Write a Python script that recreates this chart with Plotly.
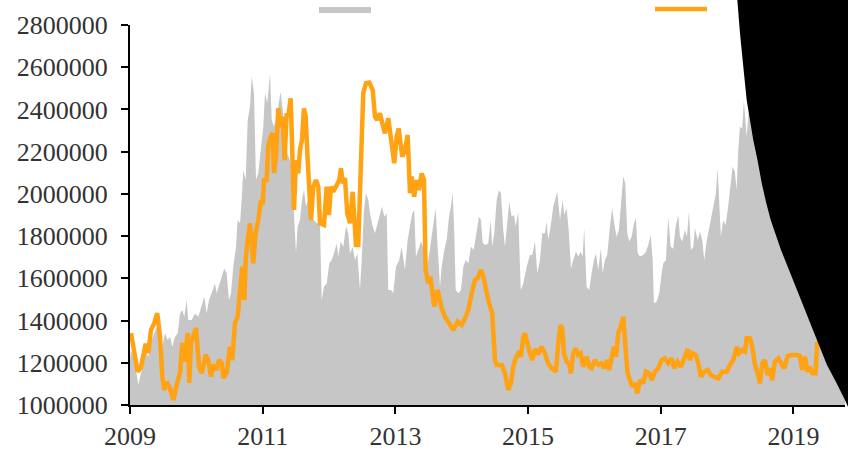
import plotly.graph_objects as go

# gray area series (decimal year, value)
area_x = [2009.0, 2009.015, 2009.075, 2009.125, 2009.176, 2009.226, 2009.276, 2009.327, 2009.402, 2009.452,
          2009.487, 2009.527, 2009.568, 2009.603, 2009.638, 2009.678, 2009.719, 2009.754, 2009.788, 2009.818,
          2009.855, 2009.877, 2009.93, 2009.98, 2010.029, 2010.07, 2010.12, 2010.156, 2010.19, 2010.231,
          2010.281, 2010.307, 2010.341, 2010.382, 2010.421, 2010.457, 2010.492, 2010.522, 2010.557, 2010.598,
          2010.623, 2010.658, 2010.683, 2010.707, 2010.744, 2010.774, 2010.809, 2010.834, 2010.869, 2010.899,
          2010.933, 2010.974, 2011.009, 2011.035, 2011.07, 2011.11, 2011.136, 2011.17, 2011.211, 2011.25,
          2011.271, 2011.301, 2011.336, 2011.371, 2011.411, 2011.446, 2011.476, 2011.502, 2011.527, 2011.562,
          2011.592, 2011.622, 2011.652, 2011.687, 2011.723, 2011.763, 2011.814, 2011.864, 2011.889, 2011.924,
          2011.965, 2012.004, 2012.04, 2012.075, 2012.115, 2012.139, 2012.176, 2012.215, 2012.256, 2012.29,
          2012.316, 2012.356, 2012.391, 2012.426, 2012.466, 2012.492, 2012.527, 2012.557, 2012.592, 2012.617,
          2012.658, 2012.693, 2012.718, 2012.757, 2012.798, 2012.833, 2012.869, 2012.893, 2012.934, 2012.969,
          2013.009, 2013.058, 2013.094, 2013.144, 2013.185, 2013.22, 2013.255, 2013.284, 2013.31, 2013.345,
          2013.385, 2013.42, 2013.456, 2013.496, 2013.536, 2013.571, 2013.607, 2013.637, 2013.672, 2013.698,
          2013.737, 2013.773, 2013.808, 2013.838, 2013.863, 2013.888, 2013.909, 2013.948, 2013.989, 2014.024,
          2014.06, 2014.099, 2014.14, 2014.18, 2014.215, 2014.26, 2014.29, 2014.316, 2014.36, 2014.4,
          2014.436, 2014.46, 2014.49, 2014.527, 2014.561, 2014.591, 2014.626, 2014.652, 2014.686, 2014.716,
          2014.752, 2014.787, 2014.813, 2014.852, 2014.889, 2014.928, 2014.979, 2015.029, 2015.064, 2015.104,
          2015.139, 2015.179, 2015.214, 2015.254, 2015.279, 2015.304, 2015.34, 2015.38, 2015.42, 2015.44,
          2015.481, 2015.521, 2015.546, 2015.581, 2015.616, 2015.646, 2015.681, 2015.721, 2015.756, 2015.792,
          2015.822, 2015.846, 2015.882, 2015.922, 2015.958, 2015.993, 2016.023, 2016.058, 2016.098, 2016.124,
          2016.158, 2016.193, 2016.234, 2016.268, 2016.298, 2016.335, 2016.369, 2016.399, 2016.435, 2016.465,
          2016.495, 2016.525, 2016.561, 2016.596, 2016.626, 2016.652, 2016.687, 2016.736, 2016.777, 2016.812,
          2016.848, 2016.878, 2016.897, 2016.938, 2016.977, 2017.013, 2017.038, 2017.078, 2017.113, 2017.149,
          2017.188, 2017.224, 2017.264, 2017.289, 2017.324, 2017.364, 2017.395, 2017.425, 2017.455, 2017.49,
          2017.515, 2017.556, 2017.591, 2017.625, 2017.655, 2017.691, 2017.726, 2017.767, 2017.806, 2017.831,
          2017.857, 2017.881, 2017.906, 2017.941, 2017.977, 2018.016, 2018.052, 2018.082, 2018.117, 2018.143,
          2018.168, 2018.193, 2018.228, 2018.253, 2018.294, 2018.329, 2018.5, 2018.8, 2019.1, 2019.4, 2019.78]
area_y = [1220000, 1260000, 1200000, 1095000, 1166000, 1260000, 1229000, 1308000, 1371000, 1292000,
          1276000, 1340000, 1308000, 1323000, 1276000, 1323000, 1340000, 1434000, 1450000, 1418000,
          1497000, 1403000, 1403000, 1434000, 1418000, 1466000, 1513000, 1434000, 1497000, 1529000,
          1576000, 1529000, 1560000, 1608000, 1647000, 1624000, 1497000, 1529000, 1655000, 1750000,
          1876000, 1861000, 1971000, 2113000, 2066000, 2350000, 2413000, 2555000, 2477000, 2066000,
          2097000, 2224000, 2318000, 2477000, 2430000, 2571000, 2350000, 2318000, 2366000, 2445000,
          2484000, 2397000, 2303000, 2192000, 2160000, 2097000, 1876000, 1718000, 1845000, 1876000,
          1971000, 2018000, 1940000, 1971000, 1892000, 1876000, 1861000, 1861000, 1497000, 1560000,
          1576000, 1671000, 1687000, 1718000, 1766000, 1703000, 1774000, 1750000, 1845000, 1813000,
          1718000, 1750000, 1687000, 1718000, 1545000, 1687000, 1924000, 2003000, 1971000, 1908000,
          1845000, 1813000, 1845000, 1892000, 1940000, 1892000, 1908000, 1545000, 1545000, 1529000,
          1655000, 1687000, 1750000, 1640000, 1782000, 1845000, 1908000, 1924000, 1703000, 1734000,
          1774000, 1750000, 1624000, 1687000, 1782000, 1845000, 1932000, 1750000, 1560000, 1655000,
          1734000, 1782000, 1892000, 1940000, 2010000, 1813000, 1545000, 1529000, 1545000, 1655000,
          1687000, 1671000, 1750000, 1734000, 1813000, 1892000, 1876000, 1766000, 1758000, 1766000,
          1876000, 1750000, 1813000, 1971000, 2018000, 2003000, 1829000, 1750000, 1861000, 1963000,
          1892000, 1900000, 1845000, 1916000, 1545000, 1576000, 1655000, 1710000, 1711000, 1774000,
          1624000, 1687000, 1813000, 1813000, 1868000, 1782000, 1845000, 1940000, 1987000, 2010000,
          1876000, 1971000, 1900000, 1932000, 1813000, 1647000, 1687000, 1726000, 1703000, 1726000,
          1703000, 1837000, 1560000, 1545000, 1624000, 1687000, 1718000, 1640000, 1742000, 1624000,
          1687000, 1711000, 1845000, 1932000, 1860000, 1797000, 1829000, 1940000, 2082000, 2050000,
          1813000, 1774000, 1797000, 1861000, 1884000, 1718000, 1703000, 1711000, 1726000, 1758000,
          1805000, 1687000, 1482000, 1489000, 1529000, 1624000, 1671000, 1687000, 1892000, 1750000,
          1740000, 1845000, 1900000, 1797000, 1774000, 1829000, 1797000, 1916000, 1734000, 1750000,
          1837000, 1782000, 1821000, 1782000, 1687000, 1774000, 1829000, 1892000, 1955000, 2003000,
          2121000, 1940000, 1797000, 1876000, 1853000, 1940000, 2050000, 2129000, 2105000, 2018000,
          2208000, 2318000, 2310000, 2445000, 2271000, 2400000, 2300000, 2250000, 2350000, 2300000, 2250000]

# orange line series (decimal year, value)
line_x = [2009.015, 2009.05, 2009.116, 2009.166, 2009.2, 2009.237, 2009.276, 2009.316, 2009.366, 2009.411,
          2009.452, 2009.487, 2009.517, 2009.553, 2009.603, 2009.653, 2009.704, 2009.754, 2009.788, 2009.818,
          2009.87, 2009.894, 2009.919, 2009.954, 2009.995, 2010.04, 2010.081, 2010.141, 2010.18, 2010.221,
          2010.255, 2010.307, 2010.341, 2010.382, 2010.406, 2010.457, 2010.507, 2010.542, 2010.582, 2010.623,
          2010.658, 2010.692, 2010.723, 2010.744, 2010.774, 2010.809, 2010.858, 2010.894, 2010.933, 2010.974,
          2011.0, 2011.02, 2011.06, 2011.083, 2011.12, 2011.15, 2011.17, 2011.2, 2011.235, 2011.271,
          2011.301, 2011.331, 2011.361, 2011.385, 2011.422, 2011.452, 2011.472, 2011.502, 2011.536, 2011.562,
          2011.592, 2011.622, 2011.648, 2011.678, 2011.702, 2011.728, 2011.763, 2011.803, 2011.838, 2011.864,
          2011.924, 2011.965, 2011.999, 2012.029, 2012.064, 2012.115, 2012.154, 2012.18, 2012.206, 2012.24,
          2012.275, 2012.316, 2012.356, 2012.38, 2012.406, 2012.44, 2012.466, 2012.492, 2012.516, 2012.557,
          2012.607, 2012.658, 2012.693, 2012.727, 2012.768, 2012.809, 2012.843, 2012.893, 2012.944, 2012.983,
          2013.02, 2013.05, 2013.104, 2013.144, 2013.185, 2013.22, 2013.245, 2013.284, 2013.32, 2013.355,
          2013.396, 2013.431, 2013.456, 2013.496, 2013.526, 2013.586, 2013.637, 2013.698, 2013.747, 2013.797,
          2013.873, 2013.939, 2013.999, 2014.049, 2014.099, 2014.15, 2014.2, 2014.24, 2014.29, 2014.325,
          2014.365, 2014.411, 2014.46, 2014.501, 2014.527, 2014.602, 2014.652, 2014.702, 2014.742, 2014.777,
          2014.813, 2014.852, 2014.893, 2014.928, 2014.953, 2014.994, 2015.029, 2015.064, 2015.104, 2015.153,
          2015.204, 2015.254, 2015.304, 2015.355, 2015.42, 2015.455, 2015.491, 2015.515, 2015.541, 2015.581,
          2015.62, 2015.646, 2015.681, 2015.721, 2015.756, 2015.792, 2015.831, 2015.882, 2015.922, 2015.958,
          2016.008, 2016.058, 2016.108, 2016.143, 2016.193, 2016.223, 2016.259, 2016.294, 2016.325, 2016.36,
          2016.395, 2016.435, 2016.471, 2016.501, 2016.536, 2016.57, 2016.611, 2016.646, 2016.687, 2016.736,
          2016.777, 2016.827, 2016.863, 2016.912, 2016.962, 2017.013, 2017.063, 2017.113, 2017.164, 2017.203,
          2017.254, 2017.304, 2017.354, 2017.405, 2017.44, 2017.475, 2017.526, 2017.565, 2017.606, 2017.655,
          2017.707, 2017.756, 2017.806, 2017.867, 2017.927, 2017.993, 2018.043, 2018.093, 2018.143, 2018.178,
          2018.219, 2018.269, 2018.294, 2018.344, 2018.379, 2018.42, 2018.46, 2018.495, 2018.53, 2018.57,
          2018.611, 2018.65, 2018.68, 2018.721, 2018.771, 2018.811, 2018.861, 2018.912, 2018.973, 2019.048,
          2019.098, 2019.132, 2019.173, 2019.213, 2019.248, 2019.283, 2019.333, 2019.358, 2019.41]
line_y = [1341000, 1276000, 1158000, 1180000, 1245000, 1290000, 1246000, 1355000, 1388000, 1435000,
          1323000, 1134000, 1071000, 1110000, 1080000, 1024000, 1095000, 1152000, 1294000, 1205000,
          1341000, 1104000, 1294000, 1323000, 1365000, 1180000, 1150000, 1237000, 1213000, 1134000,
          1190000, 1166000, 1213000, 1200000, 1128000, 1152000, 1276000, 1213000, 1388000, 1418000,
          1530000, 1655000, 1497000, 1687000, 1782000, 1861000, 1671000, 1813000, 1876000, 1971000,
          1950000, 2066000, 2066000, 2224000, 2270000, 2288000, 2099000, 2176000, 2405000, 2318000,
          2366000, 2160000, 2382000, 2366000, 2453000, 2129000, 1924000, 2160000, 2097000, 2208000,
          2255000, 2405000, 2366000, 2160000, 1971000, 1876000, 2034000, 2066000, 2034000, 1861000,
          1853000, 2034000, 1900000, 2034000, 2010000, 2042000, 2066000, 2121000, 2050000, 2074000,
          1908000, 1861000, 2010000, 1892000, 1758000, 1758000, 2003000, 2240000, 2477000, 2524000,
          2527000, 2492000, 2366000, 2350000, 2382000, 2326000, 2287000, 2358000, 2224000, 2145000,
          2271000, 2310000, 2176000, 2208000, 2279000, 2003000, 2082000, 1987000, 2066000, 2018000,
          2097000, 2066000, 1640000, 1576000, 1608000, 1466000, 1545000, 1458000, 1418000, 1395000,
          1355000, 1395000, 1379000, 1411000, 1450000, 1529000, 1592000, 1600000, 1640000, 1608000,
          1545000, 1482000, 1434000, 1213000, 1190000, 1190000, 1150000, 1071000, 1103000, 1181000,
          1221000, 1245000, 1229000, 1323000, 1340000, 1276000, 1245000, 1213000, 1265000, 1240000,
          1276000, 1245000, 1197000, 1174000, 1158000, 1292000, 1379000, 1363000, 1245000, 1205000,
          1197000, 1150000, 1245000, 1268000, 1237000, 1245000, 1181000, 1229000, 1181000, 1174000,
          1213000, 1190000, 1197000, 1174000, 1213000, 1166000, 1221000, 1276000, 1229000, 1340000,
          1371000, 1418000, 1260000, 1150000, 1118000, 1087000, 1103000, 1055000, 1118000, 1103000,
          1158000, 1150000, 1118000, 1158000, 1174000, 1213000, 1221000, 1197000, 1221000, 1174000,
          1205000, 1181000, 1221000, 1264000, 1213000, 1245000, 1237000, 1197000, 1134000, 1158000,
          1166000, 1142000, 1134000, 1126000, 1158000, 1158000, 1190000, 1213000, 1276000, 1245000,
          1260000, 1253000, 1316000, 1316000, 1276000, 1190000, 1150000, 1103000, 1197000, 1213000,
          1142000, 1174000, 1118000, 1205000, 1221000, 1197000, 1174000, 1232000, 1237000, 1237000,
          1232000, 1166000, 1229000, 1158000, 1181000, 1150000, 1150000, 1292000, 1300000]

tick_years = [2009, 2011, 2013, 2015, 2017, 2019]

GRAY = '#c6c6c6'
ORANGE = '#ffa214'
FONT = 'Liberation Serif, Times New Roman, serif'

fig = go.Figure()
fig.add_trace(go.Scatter(x=area_x, y=area_y, mode='lines', name=' ', fill='tozeroy',
                         fillcolor=GRAY, line=dict(color=GRAY, width=0), legend='legend'))
fig.add_trace(go.Scatter(x=line_x, y=line_y, mode='lines', name=' ',
                         line=dict(color=ORANGE, width=4.5), legend='legend2'))

# dark page-corner shape on the right
corner = [(737.3, 0), (740.0, 33), (743.3, 67), (746.7, 100), (753.3, 140), (757.5, 160), (761.7, 183),
          (766.0, 202), (770.7, 220), (781.0, 250), (791.0, 275), (801.0, 300), (811.0, 325),
          (819.0, 345), (827.0, 365), (836.0, 382), (844.0, 398), (848.0, 407)]
pts = [((px - 130) / 715, (405 - py) / 380) for px, py in corner]
path = 'M ' + ' L '.join(f'{a:.4f},{b:.4f}' for a, b in pts)
path += f' L 1.01,{pts[-1][1]:.4f} L 1.01,1.08 L {pts[0][0]:.4f},1.08 Z'
fig.add_shape(type='path', path=path, xref='paper', yref='paper',
              fillcolor='black', line=dict(width=0), layer='above')

axis_common = dict(showgrid=False, zeroline=False, showline=True, linecolor='black', linewidth=2,
                   ticks='outside', ticklen=7, tickwidth=2, tickcolor='black',
                   tickfont=dict(family=FONT, size=26, color='#333333'))
fig.update_xaxes(range=[2009, 2019.777], tickvals=tick_years, tickformat='d', **axis_common)
fig.update_yaxes(range=[1000000, 2800000], dtick=200000, tickformat='d', ticklabelstandoff=8,
                 **axis_common)

legend_common = dict(y=1 - 9.5 / 451, xref='container', yref='container', xanchor='left',
                     yanchor='middle', orientation='h', itemwidth=52, bgcolor='rgba(0,0,0,0)',
                     font=dict(size=14))
fig.update_layout(
    width=848, height=451,
    margin=dict(l=130, r=3, t=25, b=46, autoexpand=False),
    paper_bgcolor='white', plot_bgcolor='white',
    font=dict(family=FONT, size=20, color='#333333'),
    showlegend=True,
    legend=dict(x=314 / 848, **legend_common),
    legend2=dict(x=650 / 848, **legend_common),
)

# the page body has a default 8px margin; drop it so the figure sits at the window origin
fig.write_html('out.html', config={'displayModeBar': False},
               post_script="document.body.style.margin='0px';")
